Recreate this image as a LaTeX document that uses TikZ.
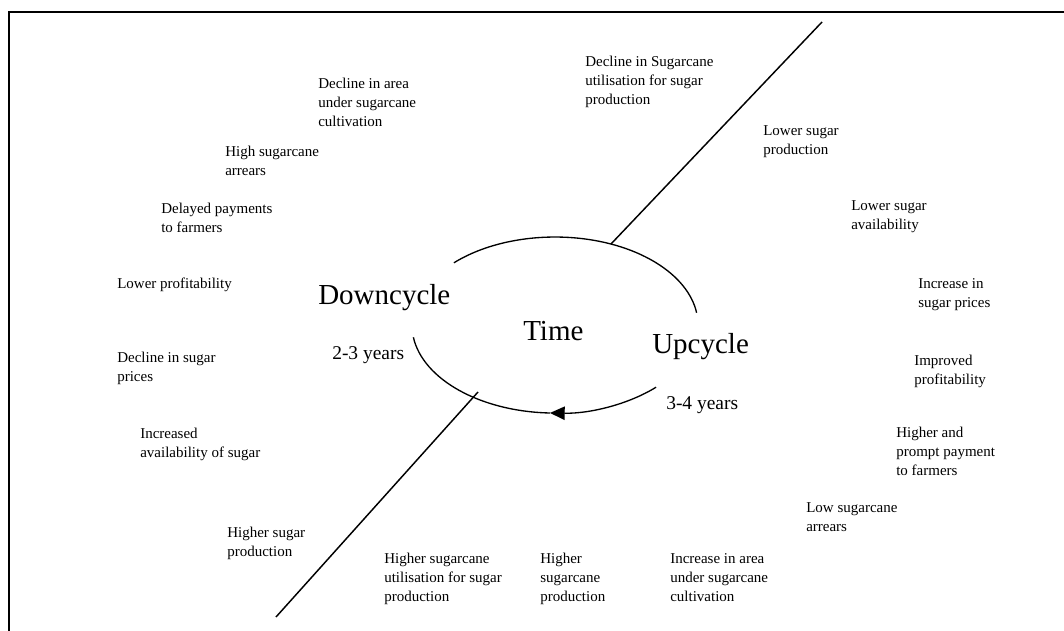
\documentclass[tikz,border=0pt]{standalone}
\usepackage{fontspec}
\setmainfont{Liberation Serif}
\usetikzlibrary{arrows.meta}
\begin{document}
\begin{tikzpicture}[x=0.75pt,y=-0.75pt,
  lbl/.style={anchor=north west, inner sep=0pt, align=left, font=\fontsize{11.25}{14.25}\selectfont},
  bigtxt/.style={anchor=base west, inner sep=0pt, font=\fontsize{21.75}{26}\selectfont},
  midtxt/.style={anchor=base west, inner sep=0pt, font=\fontsize{14.6}{17}\selectfont},
  cyc/.style={line width=1pt},
  axisline/.style={line width=1.1pt},
  frame/.style={line width=1.6pt}]
\useasboundingbox (0,0) rectangle (1064,631);
\clip (0,0) rectangle (1064,631);
\fill[white] (0,0) rectangle (1064,631);
\draw[frame] (9,12) rectangle (1080,650);

% cycle
\coordinate (c) at (555,325);
\draw[cyc] (453.9,262.8) arc[start angle=-135, end angle=-8, x radius=143, y radius=88];
\draw[cyc,-{Triangle[length=11pt,width=10pt]}] (656.1,387.2) arc[start angle=45, end angle=92, x radius=143, y radius=88];
\draw[cyc] (550.0,413.0) arc[start angle=92, end angle=172, x radius=143, y radius=88];

% dividing lines
\coordinate (u1) at (611,244);
\coordinate (u2) at (822,22);
\coordinate (l1) at (478,392);
\coordinate (l2) at (276,617);
\draw[axisline] (u1) -- (u2);
\draw[axisline] (l1) -- (l2);

% centre texts
\node[bigtxt] (down) at (318,304) {Downcycle};
\node[bigtxt] (time) at (523,340) {Time};
\node[bigtxt] (up) at (652,353) {Upcycle};
\node[midtxt] (y23) at (332,359) {2-3 years};
\node[midtxt] (y34) at (666,409) {3-4 years};

% surrounding texts
\node[lbl] (decUtil) at (585,52.7) {\strut Decline in Sugarcane\\utilisation for sugar\\production};
\node[lbl] (lowProd) at (763,121.7) {\strut Lower sugar\\production};
\node[lbl] (lowAvail) at (851,196.7) {\strut Lower sugar\\availability};
\node[lbl] (incPrice) at (918,274.7) {\strut Increase in\\sugar prices};
\node[lbl] (improved) at (914,351.7) {\strut Improved\\profitability};
\node[lbl] (prompt) at (896,423.7) {\strut Higher and\\prompt payment\\to farmers};
\node[lbl] (lowArr) at (806,498.7) {\strut Low sugarcane\\arrears};
\node[lbl] (incArea) at (670,549.7) {\strut Increase in area\\under sugarcane\\cultivation};
\node[lbl] (highCane) at (540,549.7) {\strut Higher\\sugarcane\\production};
\node[lbl] (highUtil) at (384,549.7) {\strut Higher sugarcane\\utilisation for sugar\\production};
\node[lbl] (highProd) at (227,523.7) {\strut Higher sugar\\production};
\node[lbl] (incAvail) at (140,424.7) {\strut Increased\\availability of sugar};
\node[lbl] (decPrice) at (117,348.7) {\strut Decline in sugar\\prices};
\node[lbl] (lowProf) at (117,274.7) {\strut Lower profitability};
\node[lbl] (delayed) at (161,199.7) {\strut Delayed payments\\to farmers};
\node[lbl] (highArr) at (225,142.7) {\strut High sugarcane\\arrears};
\node[lbl] (decArea) at (318,74.7) {\strut Decline in area\\under sugarcane\\cultivation};
\end{tikzpicture}
\end{document}
